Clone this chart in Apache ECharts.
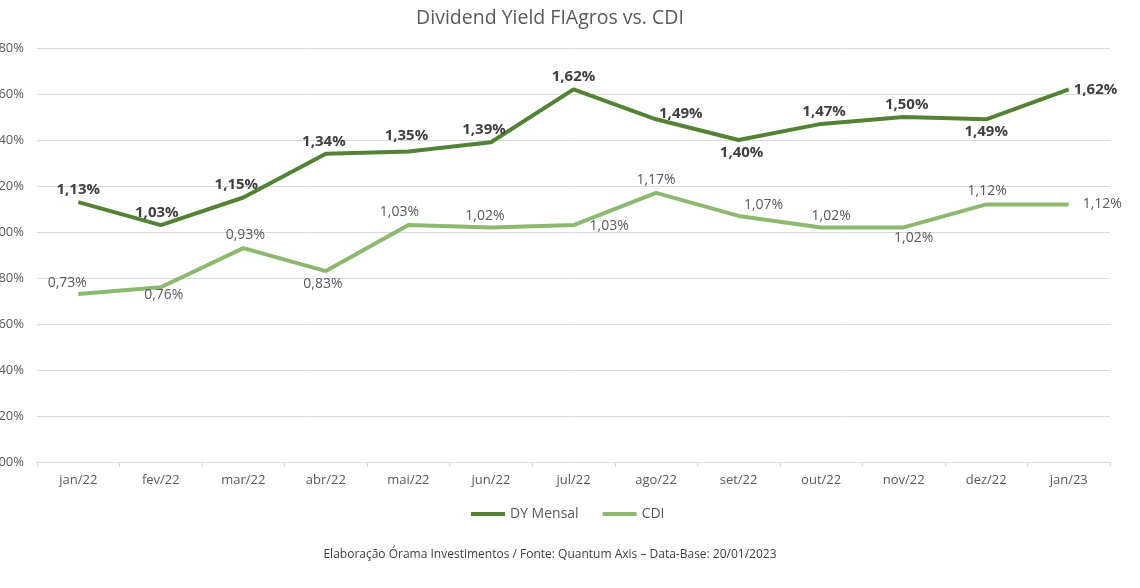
<!DOCTYPE html>
<html><head><meta charset="utf-8">
<script src="https://cdn.jsdelivr.net/npm/echarts@6/dist/echarts.min.js"></script>
<style>html,body{margin:0;padding:0;background:#fff}#c{width:1140px;height:588px}</style>
</head><body><div id="c"></div>
<script>
const categories = ['jan/22','fev/22','mar/22','abr/22','mai/22','jun/22','jul/22','ago/22','set/22','out/22','nov/22','dez/22','jan/23'];
const dyMensal = [1.13,1.03,1.15,1.34,1.35,1.39,1.62,1.49,1.40,1.47,1.50,1.49,1.62];
const cdi = [0.73,0.76,0.93,0.83,1.03,1.02,1.03,1.17,1.07,1.02,1.02,1.12,1.12];
// label placement per point
const dyLabelPos = [
  {position:'top',offset:[0,0]},{position:'top',offset:[-4,0]},{position:'top',offset:[-7,0]},
  {position:'top',offset:[-2,0]},{position:'top',offset:[-2,-3]},{position:'top',offset:[-7,0]},
  {position:'top',offset:[0,0]},{position:'right',offset:[-2,-6]},{position:'bottom',offset:[3,0]},
  {position:'top',offset:[3,0]},{position:'top',offset:[3,0]},{position:'bottom',offset:[0,0]},
  {position:'right',offset:[0,0]}
];
const cdiLabelPos = [
  {position:'top',offset:[-11,2]},{position:'bottom',offset:[3,-5]},{position:'top',offset:[2,0]},
  {position:'bottom',offset:[-3,0]},{position:'top',offset:[-9,0]},{position:'top',offset:[-6,2]},
  {position:'right',offset:[10,1]},{position:'top',offset:[0,0]},{position:'top',offset:[25,2]},
  {position:'top',offset:[10,2]},{position:'bottom',offset:[10,-2]},{position:'top',offset:[1,0]},
  {position:'right',offset:[8,0]}
];
const fmt = v => v.toFixed(2).replace('.', ',') + '%';
const chart = echarts.init(document.getElementById('c'));
const FONT = '"Open Sans", "Noto Sans", sans-serif';
chart.setOption({
  backgroundColor:'#ffffff',
  textStyle:{fontFamily:FONT},
  legend:{bottom:62,left:466,icon:'rect',itemWidth:34,itemHeight:4,itemGap:24,
    textStyle:{fontFamily:FONT,fontSize:14,color:'#595959'},
    data:['DY Mensal','CDI']},
  graphic:[
    {type:'text',x:550,y:8,
      style:{text:'Dividend Yield FIAgros vs. CDI',align:'center',verticalAlign:'top',
        font:'19.5px ' + FONT, fill:'#595959'}},
    {type:'text',x:550,y:549,
      style:{text:'Elaboração Órama Investimentos / Fonte: Quantum Axis – Data-Base: 20/01/2023',
        align:'center',verticalAlign:'top',font:'12px ' + FONT, fill:'#404040'}}],
  grid:{left:37,right:30,top:48,bottom:126,containLabel:false,outerBoundsMode:'none'},
  xAxis:{type:'category',data:categories,boundaryGap:true,
    axisLine:{lineStyle:{color:'#d9d9d9',width:1}},
    axisTick:{show:true,lineStyle:{color:'#d9d9d9'},length:5},
    axisLabel:{color:'#595959',fontSize:13,margin:12,fontFamily:FONT}},
  yAxis:{type:'value',min:0,max:1.8,interval:0.2,
    axisLine:{show:false},axisTick:{show:false},
    splitLine:{lineStyle:{color:'#d9d9d9',width:1}},
    axisLabel:{color:'#595959',fontSize:13,margin:13,fontFamily:FONT,
      formatter:v=>v.toFixed(2).replace('.',',')+'%'}},
  series:[
    {name:'DY Mensal',type:'line',symbol:'circle',symbolSize:0,showSymbol:true,
      lineStyle:{color:'#548235',width:4},itemStyle:{color:'#548235'},
      data:dyMensal.map((v,i)=>({value:v,label:Object.assign({show:true},dyLabelPos[i])})),
      label:{show:true,formatter:p=>fmt(p.value),color:'#404040',fontSize:15,fontWeight:'bold',distance:5,fontFamily:FONT}},
    {name:'CDI',type:'line',symbol:'circle',symbolSize:0,showSymbol:true,
      lineStyle:{color:'#8cb96f',width:4},itemStyle:{color:'#8cb96f'},
      data:cdi.map((v,i)=>({value:v,label:Object.assign({show:true},cdiLabelPos[i])})),
      label:{show:true,formatter:p=>fmt(p.value),color:'#595959',fontSize:14,fontWeight:'normal',distance:6,fontFamily:FONT}}
  ]
});
</script></body></html>
